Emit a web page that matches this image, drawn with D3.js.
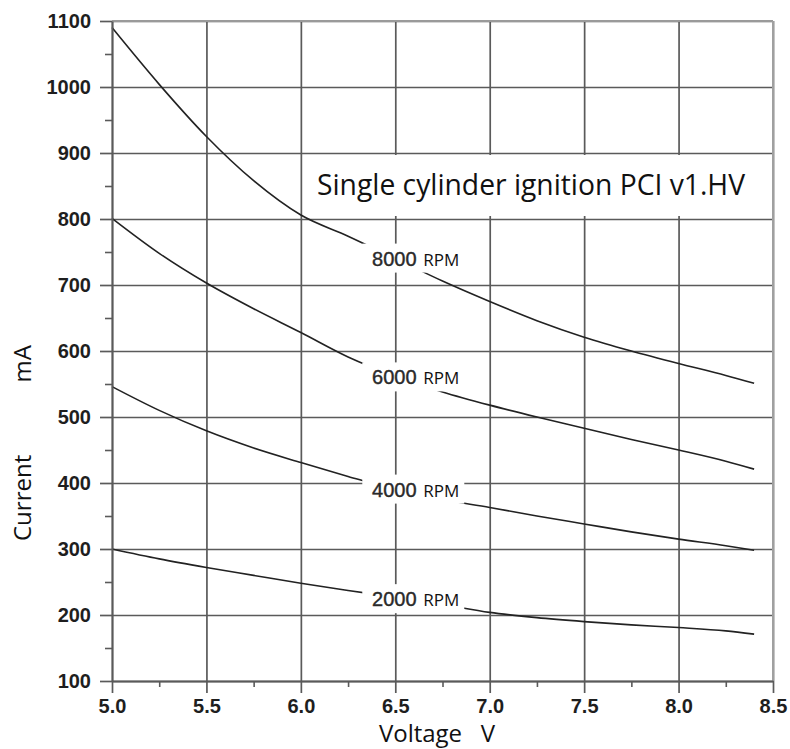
<!DOCTYPE html>
<html>
<head>
<meta charset="utf-8">
<script src="https://cdn.jsdelivr.net/npm/d3@7"></script>
<style>
  body { margin: 0; background: #fff; }
  svg { display: block; }
</style>
</head>
<body>
<div class="graph"></div>
<script>
// Datos
const volts = [5.0, 5.25, 5.5, 5.75, 6.0, 6.25, 6.5, 6.75, 7.0, 7.25, 7.5, 7.75, 8.0, 8.25, 8.4];
const current8000 = [1090, 1004, 925, 858, 806, 774, 740, 706, 675, 646, 621, 600, 581, 563, 551];
const current6000 = [801, 748, 703, 664, 628, 591, 562, 538, 518, 500, 483, 466, 450, 433, 421];
const current4000 = [546, 510, 479, 453, 431, 410, 390, 375, 363, 350, 338, 326, 315, 305, 298];
const current2000 = [300, 285, 272, 260, 248, 237, 227, 216, 204, 196, 190, 185, 181, 176, 171];
const rpmNames = ["8000", "6000", "4000", "2000"];
const labelVolt = 6.5;
const labelCurrent = [740, 560, 390, 224];

const xTicks = [5.0, 5.5, 6.0, 6.5, 7.0, 7.5, 8.0, 8.5];
const xMinor = [5.25, 5.75, 6.25, 6.75, 7.25, 7.75, 8.25];
const yTicks = [100, 200, 300, 400, 500, 600, 700, 800, 900, 1000, 1100];
const yMinor = [150, 250, 350, 450, 550, 650, 750, 850, 950, 1050];

const title = "Single cylinder ignition PCI v1.HV";

const series = [current8000, current6000, current4000, current2000].map((vals, i) => ({
    name: rpmNames[i],
    points: volts.map((v, j) => ({ v, c: vals[j] }))
}));

// Tamaño
const width = 790;
const height = 749;
const plotLeft = 112, plotRight = 773, plotTop = 21, plotBottom = 681;

const svg = d3.select(".graph")
    .append("svg")
    .attr("width", width)
    .attr("height", height);

const x = d3.scaleLinear().domain([5, 8.5]).range([plotLeft, plotRight]);
const y = d3.scaleLinear().domain([100, 1100]).range([plotBottom, plotTop]);

const gridColor = "#5a5a5a";

// Rejilla
svg.append("g")
    .attr("transform", `translate(0, ${plotBottom})`)
    .call(d3.axisBottom(x).tickValues(xTicks).tickSize(-(plotBottom - plotTop)).tickFormat(""))
    .call(g => g.select(".domain").remove())
    .call(g => g.selectAll("line").attr("stroke", gridColor).attr("stroke-width", 1.7));

svg.append("g")
    .attr("transform", `translate(${plotLeft}, 0)`)
    .call(d3.axisLeft(y).tickValues(yTicks).tickSize(-(plotRight - plotLeft)).tickFormat(""))
    .call(g => g.select(".domain").remove())
    .call(g => g.selectAll("line").attr("stroke", gridColor).attr("stroke-width", 1.7));

// Borde superior y derecho (más claros)
svg.append("line")
    .attr("x1", plotLeft).attr("x2", plotRight).attr("y1", plotTop).attr("y2", plotTop)
    .attr("stroke", "#9a9a9a").attr("stroke-width", 2);
svg.append("line")
    .attr("x1", plotRight).attr("x2", plotRight).attr("y1", plotTop).attr("y2", plotBottom)
    .attr("stroke", "#a0a0a0").attr("stroke-width", 2);

// Curvas
const line = d3.line()
    .x(d => x(d.v))
    .y(d => y(d.c))
    .curve(d3.curveMonotoneX);

svg.append("g")
    .selectAll("path")
    .data(series)
    .join("path")
    .attr("d", d => line(d.points))
    .attr("fill", "none")
    .attr("stroke", "#222")
    .attr("stroke-width", 1.6);

// Caja del título
svg.append("rect")
    .attr("x", 308).attr("y", 155)
    .attr("width", plotRight - 1 - 308).attr("height", 61)
    .attr("fill", "#fff");

svg.append("text")
    .attr("x", 317)
    .attr("y", 195)
    .attr("textLength", 428)
    .attr("lengthAdjust", "spacingAndGlyphs")
    .style("font-family", "'Open Sans', sans-serif")
    .style("font-size", "30px")
    .attr("fill", "#111")
    .text(title);

// Etiquetas de RPM
const labels = svg.append("g")
    .selectAll("g")
    .data(series.map((s, i) => ({ name: s.name, c: labelCurrent[i] })))
    .join("g")
    .attr("transform", d => `translate(${x(labelVolt)}, ${y(d.c)})`);

labels.append("rect")
    .attr("x", -33).attr("y", -15)
    .attr("width", 102).attr("height", 29)
    .attr("fill", "#fff");

labels.append("text")
    .attr("x", -1)
    .attr("y", 7)
    .attr("text-anchor", "middle")
    .style("font-family", "'Liberation Sans', Arial, sans-serif")
    .style("font-size", "20px")
    .attr("fill", "#2a2a2a")
    .attr("stroke", "#2a2a2a")
    .attr("stroke-width", 0.4)
    .text(d => d.name);

labels.append("text")
    .attr("x", 28)
    .attr("y", 7)
    .style("font-family", "'Open Sans', sans-serif")
    .style("font-size", "17px")
    .attr("fill", "#111")
    .text("RPM");

// Ejes
const tickFont = g => g.selectAll("text")
    .style("font-family", "'Liberation Sans', Arial, sans-serif")
    .style("font-size", "20px")
    .style("font-weight", "bold")
    .attr("fill", "#1e1e1e");

svg.append("g")
    .attr("transform", `translate(0, ${plotBottom})`)
    .call(d3.axisBottom(x).tickValues(xMinor).tickSize(6).tickFormat(""))
    .call(g => g.select(".domain").remove())
    .call(g => g.selectAll("line").attr("stroke", gridColor).attr("stroke-width", 1.6));

svg.append("g")
    .attr("transform", `translate(0, ${plotBottom})`)
    .call(d3.axisBottom(x).tickValues(xTicks).tickSize(12).tickSizeOuter(0).tickPadding(6).tickFormat(d3.format(".1f")))
    .call(g => g.select(".domain").attr("stroke", gridColor).attr("stroke-width", 1.8))
    .call(g => g.selectAll("line").attr("stroke", gridColor).attr("stroke-width", 1.7))
    .call(tickFont);

svg.append("g")
    .attr("transform", `translate(${plotLeft}, 0)`)
    .call(d3.axisLeft(y).tickValues(yMinor).tickSize(7).tickFormat(""))
    .call(g => g.select(".domain").remove())
    .call(g => g.selectAll("line").attr("stroke", gridColor).attr("stroke-width", 1.6));

svg.append("g")
    .attr("transform", `translate(${plotLeft}, 0)`)
    .call(d3.axisLeft(y).tickValues(yTicks).tickSize(12).tickSizeOuter(0).tickPadding(9).tickFormat(d3.format("d")))
    .call(g => g.select(".domain").attr("stroke", gridColor).attr("stroke-width", 1.8))
    .call(g => g.selectAll("line").attr("stroke", gridColor).attr("stroke-width", 1.7))
    .call(tickFont);

// Títulos de ejes
const axisTitle = sel => sel
    .style("font-family", "'Open Sans', sans-serif")
    .style("font-size", "24px")
    .attr("fill", "#111");

svg.append("text")
    .attr("x", 437)
    .attr("y", 742)
    .attr("text-anchor", "middle")
    .style("white-space", "pre")
    .call(axisTitle)
    .text("Voltage   V");

svg.append("text")
    .attr("transform", "translate(31, 541) rotate(-90)")
    .call(axisTitle)
    .text("Current");

svg.append("text")
    .attr("transform", "translate(31, 345) rotate(-90)")
    .attr("text-anchor", "end")
    .call(axisTitle)
    .text("mA");
</script>
</body>
</html>
